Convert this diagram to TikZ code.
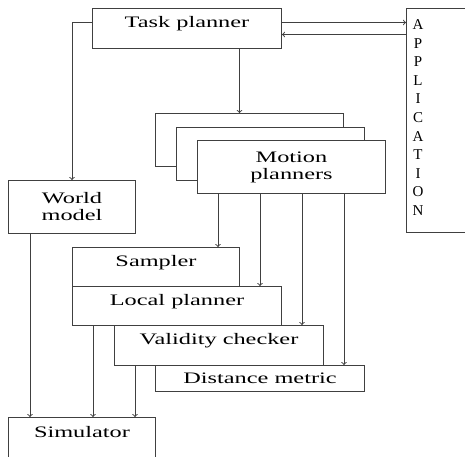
\documentclass[tikz,border=0pt]{standalone}
\usepackage{fontspec}
\setmainfont{Liberation Serif}
\usetikzlibrary{arrows,positioning}
\newcommand{\wide}[1]{\scalebox{1.52}[1]{#1}}

\begin{document}
\begin{tikzpicture}[x=1pt,y=-1pt,line width=1pt,
    box/.style={draw=black!75,fill=white,rectangle,anchor=north west,inner sep=0pt,
      font=\fontsize{16}{17}\selectfont,align=center},
    toptext/.style={text height=11pt,text depth=13pt},
    flow/.style={->,draw=black!75}]
    \useasboundingbox (0,0) rectangle (465,456);
    \clip (0,0) rectangle (465,456);

    %top row
    \node[box,toptext,minimum width=189,minimum height=40] (task) at (92,8) {\wide{Task planner}};
    \node[box,minimum width=70,minimum height=224] (app) at (406,8) {};
    \node[anchor=north,inner sep=0pt,align=center,font=\fontsize{15}{18.6}\selectfont]
      (appText) at (418,19) {A\\P\\P\\L\\I\\C\\A\\T\\I\\O\\N};

    %motion planners stack
    \node[box,minimum width=188,minimum height=53] (mp1) at (155,113) {};
    \node[box,minimum width=188,minimum height=53] (mp2) at (176,127) {};
    \node[box,minimum width=188,minimum height=53] (mp3) at (197,140) {\wide{Motion}\\\wide{planners}};

    %world model
    \node[box,minimum width=127,minimum height=53] (world) at (8,180) {\wide{World}\\\wide{model}};

    %planner parts
    \node[box,toptext,minimum width=167,minimum height=39] (samp) at (72,247) {\wide{Sampler}};
    \node[box,toptext,minimum width=209,minimum height=39] (loc) at (72,286) {\wide{Local planner}};
    \node[box,toptext,minimum width=209,minimum height=40] (val) at (114,325) {\wide{Validity checker}};
    \node[box,minimum width=209,minimum height=26] (dist) at (155,365) {\wide{Distance metric}};

    %simulator
    \node[box,toptext,minimum width=147,minimum height=42] (sim) at (8,417) {\wide{Simulator}};

    %task planner links
    \draw[flow] ([yshift=6]task.west) -| (world.north);
    \draw[flow] ([yshift=6]task.east) -- ([yshift=6]task.east -| app.west);
    \draw[flow] ([yshift=-6]task.east -| app.west) -- ([yshift=-6]task.east);
    \draw[flow] ([xshift=52.5]task.south) -- ([xshift=52.5]task.south |- mp1.north);

    %motion planners to parts
    \foreach \part/\dx in {samp/21,loc/63,val/105,dist/147}
      \draw[flow] ([xshift=\dx]mp3.south west) -- ([xshift=\dx]mp3.south west |- \part.north);

    %to simulator
    \foreach \part/\dx in {world/22,loc/21,val/21}
      \draw[flow] ([xshift=\dx]\part.south west) -- ([xshift=\dx]\part.south west |- sim.north);
\end{tikzpicture}
\end{document}
